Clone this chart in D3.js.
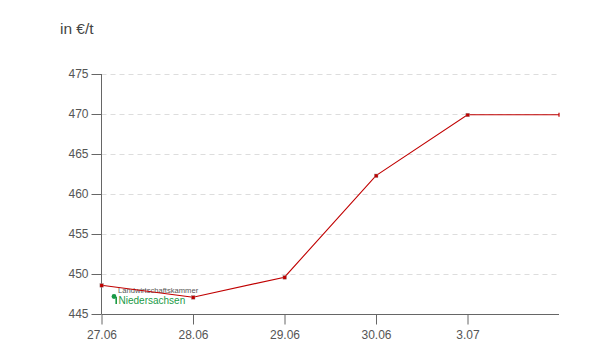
<!DOCTYPE html>
<html><head><meta charset="utf-8">
<script src="https://cdn.jsdelivr.net/npm/d3@7"></script>
<style>body{margin:0;background:#fff;font-family:"Liberation Sans",Arial,sans-serif}</style>
</head><body><svg id="c" width="616" height="344"></svg>
<script>
const dates = ["27.06","28.06","29.06","30.06","3.07","4.07"];
const tickLabels = ["27.06","28.06","29.06","30.06","3.07"];
const prices = [448.6, 447.1, 449.6, 462.3, 469.9, 469.9];
const yTicks = [445,450,455,460,465,470,475];

const svg = d3.select("#c");
const x = d3.scalePoint().domain(dates).range([101.5, 559]);
const y = d3.scaleLinear().domain([445,475]).range([314,74]);

svg.append("text").attr("x",60).attr("y",34).attr("font-size",15.5).attr("fill","#444").text("in €/t");

// grid
svg.append("g").selectAll("line").data(yTicks.slice(1)).join("line")
  .attr("x1",101.5).attr("x2",559).attr("y1",d=>Math.round(y(d))+0.5).attr("y2",d=>Math.round(y(d))+0.5)
  .attr("stroke","#ddd").attr("stroke-dasharray","5,4");

// y axis
const ya = svg.append("g").attr("transform","translate(101.5,0)")
  .call(d3.axisLeft(y).tickValues(yTicks).tickSize(10).tickPadding(3).tickFormat(d3.format("d")));
ya.select(".domain").attr("stroke","#666").attr("d","M0,74V314");
ya.selectAll(".tick line").attr("stroke","#666");
ya.selectAll("text").attr("font-size",12).attr("fill","#555").attr("font-family","Liberation Sans, Arial, sans-serif");

// x axis
const xa = svg.append("g").attr("transform","translate(0,314.5)")
  .call(d3.axisBottom(x).tickValues(tickLabels).tickSize(10).tickPadding(6));
xa.select(".domain").attr("stroke","#666").attr("d","M101.5,0H559");
xa.selectAll(".tick line").attr("stroke","#666");
xa.selectAll("text").attr("font-size",12).attr("fill","#555").attr("font-family","Liberation Sans, Arial, sans-serif");

// logo
const logo = svg.append("g");
logo.append("circle").attr("cx",114).attr("cy",296.5).attr("r",2.4).attr("fill","#1a9a46");
logo.append("rect").attr("x",115.4).attr("y",297).attr("width",1.6).attr("height",7).attr("fill","#1a9a46");
logo.append("text").attr("x",118).attr("y",292.5).attr("font-size",7.6).attr("fill","#555").text("Landwirtschaftskammer");
logo.append("text").attr("x",118.5).attr("y",304).attr("font-size",10).attr("fill","#1a9a46").text("Niedersachsen");

// line
const line = d3.line().x((d,i)=>x(dates[i])).y(d=>y(d));
svg.append("path").datum(prices).attr("d",line).attr("fill","none").attr("stroke","#c00000").attr("stroke-width",1.1);

// markers
svg.append("g").selectAll("rect").data(prices.slice(0,5)).join("rect")
  .attr("x",(d,i)=>x(dates[i])-1.6).attr("y",d=>y(d)-1.6).attr("width",3.6).attr("height",3.6)
  .attr("fill","#c00000").attr("stroke","#999").attr("stroke-width",0.4);
// end tick
svg.append("line").attr("x1",x(dates[5])).attr("x2",x(dates[5]))
  .attr("y1",y(prices[5])-2).attr("y2",y(prices[5])+2).attr("stroke","#c00000").attr("stroke-width",1.2);
</script></body></html>
